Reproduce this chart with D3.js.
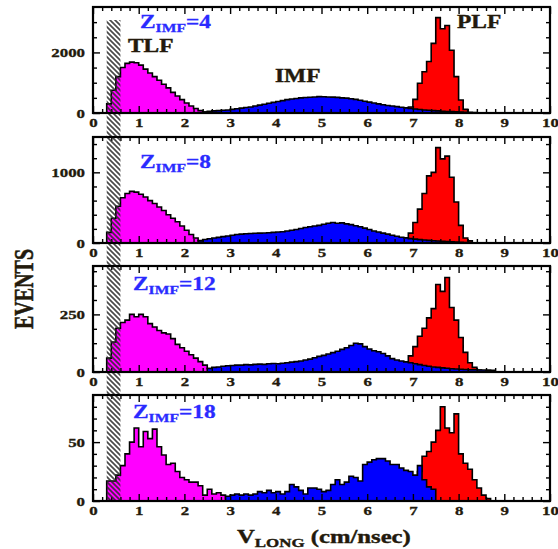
<!DOCTYPE html>
<html>
<head>
<meta charset="utf-8">
<script src="https://cdn.jsdelivr.net/npm/d3@7"></script>
<style>
    body { margin: 0; background: #fff; }
    svg { display: block; }
</style>
</head>
<body>
<div id="chart"></div>
<script>
// ---- data, bins are 0.1 cm/nsec wide ----
const BIN = 0.1;
const zImf = ['4', '8', '12', '18'];
const yMax = [3500, 1500, 460, 90];
const yLabelTicks = [[0, 2000], [0, 1000], [0, 250], [0, 50]];
const yMinorStep = [500, 200, 62.5, 10];
const xTicks = [0, 1, 2, 3, 4, 5, 6, 7, 8, 9, 10];

// TLF (magenta), first bin starts at these velocities
const tlfStart = [0.3, 0.3, 0.3, 0.3];
const tlf4 = [300, 750, 1200, 1500, 1640, 1680, 1660, 1580, 1450, 1320, 1200, 1080, 950, 830, 680, 560, 440, 330, 230, 150, 80, 30];
const tlf8 = [150, 350, 520, 640, 700, 730, 720, 690, 650, 600, 560, 510, 460, 400, 350, 300, 240, 180, 120, 70, 35];
const tlf12 = [60, 130, 190, 215, 225, 250, 240, 250, 240, 210, 195, 180, 170, 165, 145, 120, 105, 90, 75, 60, 45, 30, 15];
const tlf18 = [17, 17, 22, 30, 40, 50, 62, 46, 59, 53, 61, 46, 39, 31, 32, 25, 20, 18, 16, 16, 13, 5, 10, 6, 7, 5, 2];

// IMF (blue)
const imfStart = [2.4, 2.3, 2.5, 2.9];
const imf4 = [30, 60, 70, 80, 90, 100,
    120, 140, 160, 180, 200, 230, 260, 290, 320, 350,
    380, 410, 440, 460, 480, 500, 510, 520, 530, 540,
    535, 530, 525, 515, 500, 490, 470, 450, 420, 390,
    360, 330, 300, 270, 250, 230, 210, 190, 170, 150,
    130, 115, 100, 90, 80, 70, 60, 50, 45, 40,
    30, 25, 20, 15, 10, 5];
const imf8 = [30, 50, 60, 70, 80, 90, 100,
    110, 120, 125, 130, 135, 138, 140, 142, 145, 150,
    155, 160, 170, 180, 190, 205, 220, 230, 240, 250,
    265, 280, 290, 280, 285, 270, 260, 245, 230, 210,
    190, 170, 155, 140, 125, 110, 95, 82, 72, 62,
    55, 48, 42, 37, 32, 28, 24, 20, 17, 14,
    11, 8, 5, 3];
const imf12 = [15, 20, 22, 25, 27,
    28, 30, 30, 32, 31, 33, 34, 33, 36, 37,
    36, 38, 40, 43, 45, 48, 52, 56, 62, 68,
    72, 78, 84, 90, 98, 105, 115, 125, 122, 110,
    100, 92, 88, 80, 70, 58, 52, 48, 44, 40,
    36, 32, 28, 25, 22, 20, 18, 16, 14, 13,
    12, 11, 10, 10, 9, 9, 8, 7];
const imf18 = [4,
    5, 6, 5, 6, 5, 6, 8, 7, 9, 7,
    8, 6, 8, 14, 12, 9, 6, 11, 11, 10,
    8, 9, 14, 18, 14, 16, 21, 20, 17, 31,
    33, 35, 36, 36, 34, 31, 31, 28, 26, 25,
    22, 30, 18, 12, 10];

// PLF (red)
const plfStart = [6.9, 6.8, 6.8, 7.1];
const plf4 = [200, 450, 980, 1360, 1700, 2300, 3150, 2780, 2890, 2070, 1200, 430, 120];
const plf8 = [60, 140, 290, 480, 700, 950, 1000, 1350, 1190, 1230, 930, 580, 250, 70, 30];
const plf12 = [40, 70, 110, 155, 190, 235, 275, 380, 350, 410, 280, 225, 150, 85, 40, 20, 8];
const plf18 = [25, 38, 42, 50, 60, 80, 62, 58, 74, 40, 32, 27, 18, 11, 5, 2];

const tlfValues = [tlf4, tlf8, tlf12, tlf18];
const imfValues = [imf4, imf8, imf12, imf18];
const plfValues = [plf4, plf8, plf12, plf18];

// ---- layout ----
const width = 558, height = 549;
const frameLeft = 93, frameRight = 550, panelHeight = 106;
const panelTops = [7, 137, 266, 395];
const zLabelPos = [[140, 28], [140, 168], [133, 290], [133, 418]];
const SX = 1.3;   // the original lettering is stretched horizontally
const inkColor = '#231a0c';
const serif = "'Liberation Serif', 'Times New Roman', serif";

const svg = d3.select('#chart')
    .append('svg')
    .attr('width', width)
    .attr('height', height);

svg.append('defs')
    .append('pattern')
    .attr('id', 'hatch')
    .attr('patternUnits', 'userSpaceOnUse')
    .attr('width', 5)
    .attr('height', 5)
    .append('path')
    .attr('d', 'M-1,-1L6,6M4,-1L6,1M-1,4L1,6')
    .attr('stroke', '#2a2a2a')
    .attr('stroke-width', 1.7);

const x = d3.scaleLinear().domain([0, 10]).range([frameLeft, frameRight]);
const xMinor = d3.range(1, 50).map((i) => i / 5).filter((v) => v % 1 !== 0);

function binPoints(start, values) {
    const pts = values.map((v, i) => [start + i * BIN, v]);
    pts.push([start + values.length * BIN, 0]);
    return pts;
}

function styleAxis(g) {
    g.select('.domain').remove();
    g.selectAll('.tick line')
        .attr('stroke', '#000')
        .attr('stroke-width', 1.4);
    g.selectAll('.tick text')
        .attr('fill', inkColor)
        .attr('stroke', inkColor)
        .attr('stroke-width', 0.3)
        .style('font-family', serif)
        .style('font-weight', 'bold')
        .style('font-size', '13px')
        .attr('transform', `scale(${SX},1)`);
}

function drawPanel(i) {
    const top = panelTops[i];
    const bottom = top + panelHeight;
    const y = d3.scaleLinear().domain([0, yMax[i]]).range([bottom, top]);

    const area = d3.area()
        .curve(d3.curveStepAfter)
        .x((d) => x(d[0]))
        .y0(y(0))
        .y1((d) => y(d[1]));

    const hist = svg.append('g').attr('class', 'hist');
    const series = [
        { start: tlfStart[i], values: tlfValues[i], color: '#ff00ff' },
        { start: plfStart[i], values: plfValues[i], color: '#ff0000' },
        { start: imfStart[i], values: imfValues[i], color: '#0000ff' }
    ];
    series.forEach((s) => {
        hist.append('path')
            .datum(binPoints(s.start, s.values))
            .attr('d', area)
            .attr('fill', s.color)
            .attr('stroke', '#000')
            .attr('stroke-width', 1.6)
            .attr('stroke-linejoin', 'miter');
    });

    /* ticks on all four sides, pointing inwards */
    const minorY = d3.range(yMinorStep[i], yMax[i], yMinorStep[i])
        .filter((v) => !yLabelTicks[i].includes(v));

    svg.append('g').attr('transform', `translate(0,${bottom})`)
        .call(d3.axisBottom(x).tickValues(xMinor).tickSize(-4).tickFormat(''))
        .call(styleAxis);
    svg.append('g').attr('transform', `translate(0,${bottom})`)
        .call(d3.axisBottom(x).tickValues(xTicks).tickSize(-7).tickPadding(5).tickFormat(d3.format('d')))
        .call(styleAxis);
    svg.append('g').attr('transform', `translate(0,${top})`)
        .call(d3.axisTop(x).tickValues(xMinor).tickSize(-4).tickFormat(''))
        .call(styleAxis);
    svg.append('g').attr('transform', `translate(0,${top})`)
        .call(d3.axisTop(x).tickValues(xTicks).tickSize(-7).tickFormat(''))
        .call(styleAxis);

    svg.append('g').attr('transform', `translate(${frameLeft},0)`)
        .call(d3.axisLeft(y).tickValues(minorY).tickSize(-4).tickFormat(''))
        .call(styleAxis);
    const yMajor = svg.append('g').attr('transform', `translate(${frameLeft},0)`)
        .call(d3.axisLeft(y).tickValues(yLabelTicks[i]).tickSize(-7).tickPadding(8).tickFormat(d3.format('d')))
        .call(styleAxis);
    yMajor.selectAll('.tick text').attr('x', -8 / SX);

    svg.append('g').attr('transform', `translate(${frameRight},0)`)
        .call(d3.axisRight(y).tickValues(minorY).tickSize(-4).tickFormat(''))
        .call(styleAxis);
    svg.append('g').attr('transform', `translate(${frameRight},0)`)
        .call(d3.axisRight(y).tickValues(yLabelTicks[i]).tickSize(-7).tickFormat(''))
        .call(styleAxis);

    /* Z_IMF label */
    const [lx, ly] = zLabelPos[i];
    const zt = svg.append('text')
        .attr('transform', `translate(${lx},${ly}) scale(${SX},1)`)
        .attr('fill', '#2a2aff')
        .attr('stroke', '#2a2aff')
        .attr('stroke-width', 0.3)
        .style('font-family', serif)
        .style('font-weight', 'bold')
        .style('font-size', '18px');
    zt.append('tspan').text('Z');
    zt.append('tspan').attr('dy', 4).style('font-size', '12px').text('IMF');
    zt.append('tspan').attr('dy', -4).text('=' + zImf[i]);

    return { top, bottom };
}

function label(txt, px, py, size) {
    return svg.append('text')
        .attr('transform', `translate(${px},${py}) scale(${SX},1)`)
        .attr('fill', inkColor)
        .attr('stroke', inkColor)
        .attr('stroke-width', 0.4)
        .style('font-family', serif)
        .style('font-weight', 'bold')
        .style('font-size', size + 'px')
        .text(txt);
}

const frames = zImf.map((z, i) => drawPanel(i));

/* hatched band of the detector threshold, over all panels */
svg.append('rect')
    .attr('x', x(0.3))
    .attr('y', 20)
    .attr('width', x(0.6) - x(0.3))
    .attr('height', frames[3].bottom - 20)
    .attr('fill', 'url(#hatch)')
    .attr('opacity', 0.85);

frames.forEach((f) => {
    svg.append('rect')
        .attr('x', frameLeft)
        .attr('y', f.top)
        .attr('width', frameRight - frameLeft)
        .attr('height', f.bottom - f.top)
        .attr('fill', 'none')
        .attr('stroke', '#000')
        .attr('stroke-width', 2.2);
});

label('TLF', 128, 52, 18);
label('IMF', 275, 82, 18);
label('PLF', 457, 28, 18);

/* axis titles */
svg.append('text')
    .attr('transform', `translate(33,289) scale(${SX + 0.05},1) rotate(-90)`)
    .attr('text-anchor', 'middle')
    .attr('fill', inkColor)
    .attr('stroke', inkColor)
    .attr('stroke-width', 0.4)
    .style('font-family', serif)
    .style('font-weight', 'bold')
    .style('font-size', '20px')
    .text('EVENTS');

const xt = svg.append('text')
    .attr('transform', `translate(237,543) scale(${SX},1)`)
    .attr('fill', inkColor)
    .attr('stroke', inkColor)
    .attr('stroke-width', 0.4)
    .style('font-family', serif)
    .style('font-weight', 'bold')
    .style('font-size', '19px');
xt.append('tspan').text('V');
xt.append('tspan').attr('dy', 4).style('font-size', '13px').text('LONG');
xt.append('tspan').attr('dy', -4).text(' (cm/nsec)');
</script>
</body>
</html>
